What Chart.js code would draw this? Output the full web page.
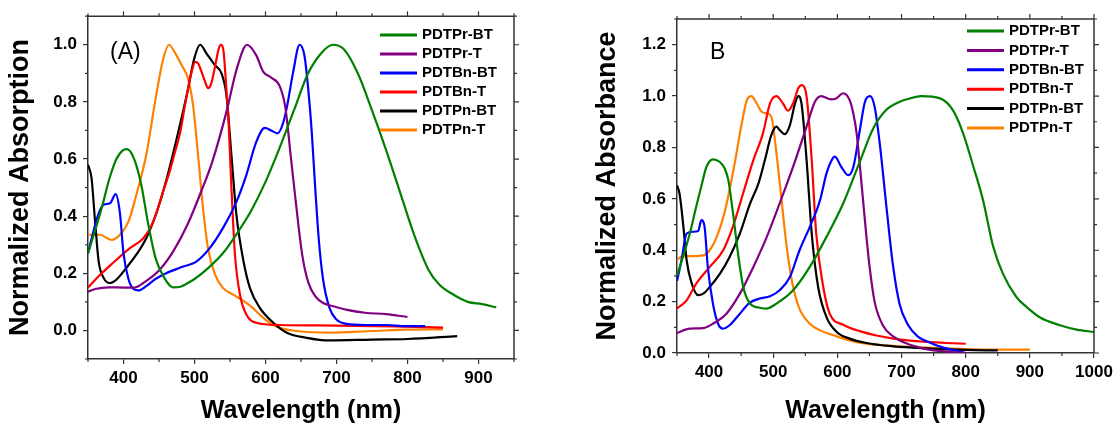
<!DOCTYPE html>
<html>
<head>
<meta charset="utf-8">
<script src="https://cdn.jsdelivr.net/npm/chart.js@4.4.0/dist/chart.umd.min.js"></script>
<style>
  body{margin:0;background:#fff;}
  #wrap{position:relative;width:1117px;height:426px;}
  canvas{position:absolute;top:0;}
  #chartA{left:0;}
  #chartB{left:580px;}
</style>
</head>
<body>
<div id="wrap">
  <canvas id="chartA" width="580" height="426"></canvas>
  <canvas id="chartB" width="537" height="426"></canvas>
</div>
<script>
// series names and colours (same order in both panels)
const names = ['PDTPr-BT','PDTPr-T','PDTBn-BT','PDTBn-T','PDTPn-BT','PDTPn-T'];
const colors = ['#008000','#800080','#0000ff','#ff0000','#000000','#ff8000'];

// tick labels
const xTicksA = [400,500,600,700,800,900];
const yTicksA = [0,0.2,0.4,0.6,0.8,1.0];
const xTicksB = [400,500,600,700,800,900,1000];
const yTicksB = [0,0.2,0.4,0.6,0.8,1.0,1.2];

// ---- panel A: normalized absorption ----
const wlA_PrBT = [350,360,370,380,390,400,405,415,425,435,445,455,470,480,490,500,520,540,560,580,600,620,640,660,680,695,710,730,750,770,790,810,830,845,865,885,905,925];
const abA_PrBT = [0.27,0.35,0.435,0.53,0.60,0.632,0.635,0.60,0.51,0.37,0.255,0.195,0.151,0.153,0.165,0.18,0.22,0.27,0.34,0.42,0.52,0.64,0.77,0.90,0.975,1.0,0.985,0.90,0.77,0.63,0.48,0.33,0.21,0.16,0.125,0.10,0.092,0.081];

const wlA_PrT = [350,360,380,400,415,430,450,470,490,510,525,545,560,574,587,597,608,620,628,636,644,652,660,670,682,695,715,740,770,800];
const abA_PrT = [0.135,0.145,0.151,0.15,0.15,0.17,0.21,0.277,0.37,0.49,0.59,0.765,0.92,1.0,0.963,0.905,0.885,0.855,0.78,0.6,0.42,0.26,0.17,0.12,0.095,0.085,0.072,0.062,0.057,0.047];

const wlA_BnBT = [350,357,365,372,381,389,395,400,407,414,421,432,445,460,480,503,522,540,559,573,587,599,608,617,624,630,639,648,655,660,665,670,675,681,690,700,714,742,770,798,825];
const abA_BnBT = [0.27,0.34,0.41,0.44,0.445,0.477,0.41,0.27,0.18,0.145,0.14,0.155,0.18,0.20,0.22,0.242,0.29,0.358,0.45,0.544,0.66,0.709,0.70,0.69,0.72,0.78,0.905,1.0,0.96,0.85,0.70,0.50,0.32,0.18,0.08,0.038,0.023,0.019,0.019,0.015,0.015];

const wlA_BnT = [350,365,385,409,428,440,447,455,465,472,480,486,491,496,501,505,510,515,519,523,527,531,534,537,541,545,548,552,557,564,573,587,620,700,780,850];
const abA_BnT = [0.15,0.19,0.236,0.288,0.323,0.37,0.416,0.48,0.556,0.62,0.695,0.78,0.847,0.905,0.94,0.935,0.905,0.87,0.848,0.86,0.9,0.95,0.985,1.0,0.975,0.84,0.73,0.50,0.265,0.126,0.056,0.027,0.019,0.017,0.014,0.01];

const wlA_PnBT = [350,355,360,365,372,381,390,404,418,432,447,461,475,489,500,508,517,529,538,545,552,559,569,578,592,611,630,658,690,750,800,870];
const abA_PnBT = [0.58,0.533,0.38,0.242,0.184,0.166,0.178,0.219,0.265,0.323,0.416,0.533,0.672,0.823,0.955,1.0,0.969,0.928,0.9,0.823,0.614,0.405,0.242,0.149,0.079,0.027,-0.008,-0.026,-0.035,-0.032,-0.03,-0.02];

const wlA_PnT = [350,367,383,395,407,418,432,446,456,464,472,482,491,498,505,512,519,529,540,554,568,582,594,606,620,644,690,750,800,850];
const abA_PnT = [0.335,0.335,0.317,0.335,0.381,0.474,0.614,0.823,0.951,1.0,0.974,0.928,0.881,0.788,0.614,0.428,0.288,0.195,0.149,0.126,0.105,0.079,0.05,0.027,0.009,-0.002,-0.008,-0.002,0.003,0.004];

// ---- panel B: normalized absorbance ----
const wlB_PrBT = [350,360,370,380,388,396,406,416,424,430,437,445,453,463,477,489,505,531,557,583,609,635,656,676,697,713,730,760,780,796,812,827,843,858,879,895,916,947,973,1000];
const abB_PrBT = [0.30,0.38,0.465,0.57,0.65,0.725,0.754,0.745,0.72,0.673,0.55,0.39,0.26,0.195,0.177,0.173,0.192,0.244,0.335,0.452,0.582,0.745,0.875,0.946,0.978,0.991,1.0,0.991,0.945,0.855,0.725,0.595,0.413,0.309,0.218,0.179,0.138,0.108,0.091,0.082];

const wlB_PrT = [350,370,391,406,427,448,469,490,510,531,552,565,575,590,598,609,619,625,630,635,640,645,650,658,671,687,708,730,750,780,800];
const abB_PrT = [0.078,0.095,0.097,0.114,0.153,0.231,0.335,0.452,0.582,0.725,0.881,0.978,1.0,0.987,0.991,1.011,0.985,0.93,0.855,0.73,0.595,0.46,0.34,0.2,0.107,0.065,0.037,0.02,0.01,0.004,0.0];

const wlB_BnBT = [350,357,365,375,383,388,393,398,406,414,422,432,448,463,479,495,510,526,541,557,573,583,590,596,606,617,625,635,643,651,658,666,677,687,697,710,725,740,765,791,800];
const abB_BnBT = [0.28,0.361,0.465,0.472,0.475,0.517,0.491,0.335,0.192,0.114,0.095,0.108,0.153,0.195,0.212,0.221,0.244,0.296,0.40,0.491,0.595,0.699,0.745,0.764,0.725,0.692,0.725,0.868,0.978,1.0,0.959,0.816,0.556,0.335,0.19,0.11,0.065,0.045,0.021,0.006,0.0];

const wlB_BnT = [350,365,380,401,422,437,453,469,484,495,505,515,523,531,539,544,552,560,567,578,588,609,635,661,687,713,740,770,800];
const abB_BnT = [0.173,0.205,0.27,0.335,0.40,0.491,0.621,0.751,0.855,0.972,1.0,0.972,0.943,0.972,1.03,1.043,0.998,0.751,0.465,0.257,0.153,0.11,0.085,0.068,0.056,0.048,0.043,0.039,0.036];

const wlB_PnBT = [350,354,360,365,373,383,391,401,417,432,448,464,477,487,497,505,510,518,526,534,539,544,552,560,570,583,599,619,645,687,740,800,850];
const abB_PnBT = [0.653,0.62,0.491,0.361,0.27,0.225,0.231,0.257,0.309,0.374,0.465,0.582,0.66,0.751,0.848,0.881,0.868,0.852,0.887,0.972,1.0,0.972,0.751,0.465,0.257,0.14,0.082,0.056,0.039,0.026,0.018,0.012,0.01];

const wlB_PnT = [350,360,375,391,401,412,425,438,451,459,466,474,482,490,497,505,513,521,531,542,557,573,594,619,645,687,739,791,843,900];
const abB_PnT = [0.364,0.377,0.377,0.38,0.40,0.452,0.556,0.712,0.894,0.985,1.0,0.972,0.939,0.933,0.92,0.777,0.595,0.413,0.257,0.166,0.114,0.088,0.069,0.049,0.036,0.028,0.021,0.016,0.013,0.013];

const FONT = '"Liberation Sans", Arial, Helvetica, sans-serif';
const AXIS = '#333';

// frame on top/right, minor ticks, legend and panel letter
const framePlugin = {
  id: 'frame',
  afterDraw(chart, args, o) {
    const {ctx, chartArea: a} = chart;
    const sx = chart.scales.x, sy = chart.scales.y;
    ctx.save();
    ctx.strokeStyle = AXIS; ctx.lineWidth = 1.5;
    ctx.beginPath();
    ctx.moveTo(a.left, a.top); ctx.lineTo(a.right, a.top); ctx.lineTo(a.right, a.bottom);
    ctx.stroke();
    const split = s => {
      const maj = s.ticks.map(t => t.value);
      const st = maj[1] - maj[0], mn = [];
      for (let v = maj[0] - st/2; v <= s.max + 1e-9; v += st) if (v >= s.min - 1e-9) mn.push(v);
      return {maj, mn};
    };
    const tx = split(sx), ty = split(sy);
    ctx.lineWidth = 1.2;
    ctx.beginPath();
    tx.mn.forEach(v => { const p = sx.getPixelForValue(v); ctx.moveTo(p, a.bottom); ctx.lineTo(p, a.bottom + 3); ctx.moveTo(p, a.top); ctx.lineTo(p, a.top - 3); });
    tx.maj.forEach(v => { const p = sx.getPixelForValue(v); ctx.moveTo(p, a.top); ctx.lineTo(p, a.top - 5); });
    ty.mn.forEach(v => { const p = sy.getPixelForValue(v); ctx.moveTo(a.left, p); ctx.lineTo(a.left - 3, p); ctx.moveTo(a.right, p); ctx.lineTo(a.right + 3, p); });
    ty.maj.forEach(v => { const p = sy.getPixelForValue(v); ctx.moveTo(a.right, p); ctx.lineTo(a.right + 5, p); });
    ctx.stroke();

    // legend
    ctx.font = 'bold 15px ' + FONT;
    ctx.textBaseline = 'middle'; ctx.textAlign = 'left';
    chart.data.datasets.forEach((d, i) => {
      const y = o.ly + i * o.gap;
      ctx.strokeStyle = d.borderColor; ctx.lineWidth = 3;
      ctx.beginPath(); ctx.moveTo(o.lx, y); ctx.lineTo(o.lx + 37, y); ctx.stroke();
      ctx.fillStyle = '#000';
      ctx.fillText(d.label, o.lx + 42, y);
    });

    ctx.font = '23px ' + FONT;
    ctx.fillText(o.tag, o.tx, o.ty);
    ctx.restore();
  }
};

function makeChart(id, p) {
  const datasets = p.series.map((s, i) => ({
    label: names[i],
    data: s[0].map((w, j) => ({x: w, y: s[1][j]})),
    borderColor: colors[i],
    borderWidth: 2.2,
    pointRadius: 0,
    cubicInterpolationMode: 'monotone',
    fill: false
  }));
  const tickFont = {family: FONT, size: 17, weight: 'bold'};
  const xTitleFont = {family: FONT, size: 25, weight: 'bold'};
  const yTitleFont = {family: FONT, size: 27, weight: 'bold'};
  return new Chart(document.getElementById(id), {
    type: 'line',
    data: {datasets},
    options: {
      responsive: false,
      animation: false,
      layout: {padding: {top: p.top, right: p.right, left: 0, bottom: 0}},
      plugins: {
        legend: {display: false},
        tooltip: {enabled: false},
        frame: {lx: p.lx, ly: p.ly, gap: p.gap, tag: p.tag, tx: p.tx, ty: p.ty}
      },
      scales: {
        x: {
          type: 'linear', min: p.xmin, max: p.xmax,
          afterBuildTicks: s => { s.ticks = p.xt.map(v => ({value: v})); },
          afterFit: s => { s.height = p.xh; },
          ticks: {font: tickFont, color: '#000', padding: 4, maxRotation: 0, autoSkip: false, callback: v => String(v)},
          grid: {drawOnChartArea: false, tickLength: 5, color: AXIS, lineWidth: 1.2},
          border: {color: AXIS, width: 1.5},
          title: {display: true, text: 'Wavelength (nm)', font: xTitleFont, color: '#000', padding: {top: 0, bottom: 0}}
        },
        y: {
          min: p.ymin, max: p.ymax,
          afterBuildTicks: s => { s.ticks = p.yt.map(v => ({value: v})); },
          afterFit: s => { s.width = p.yw; },
          ticks: {font: tickFont, color: '#000', padding: 6, callback: v => Number(v).toFixed(1)},
          grid: {drawOnChartArea: false, tickLength: 5, color: AXIS, lineWidth: 1.2},
          border: {color: AXIS, width: 1.5},
          title: {display: true, text: p.ytitle, font: yTitleFont, color: '#000', padding: {top: p.ytp, bottom: 0}}
        }
      }
    },
    plugins: [framePlugin]
  });
}

makeChart('chartA', {
  series: [[wlA_PrBT, abA_PrBT], [wlA_PrT, abA_PrT], [wlA_BnBT, abA_BnBT], [wlA_BnT, abA_BnT], [wlA_PnBT, abA_PnBT], [wlA_PnT, abA_PnT]],
  xmin: 350, xmax: 950, ymin: -0.1, ymax: 1.1, xt: xTicksA, yt: yTicksA,
  top: 14, right: 66, xh: 67, yw: 88, ytp: 4,
  ytitle: 'Normalized Absorption',
  lx: 380, ly: 35, gap: 19, tag: '(A)', tx: 110, ty: 53
});

makeChart('chartB', {
  series: [[wlB_PrBT, abB_PrBT], [wlB_PrT, abB_PrT], [wlB_BnBT, abB_BnBT], [wlB_BnT, abB_BnT], [wlB_PnBT, abB_PnBT], [wlB_PnT, abB_PnT]],
  xmin: 350, xmax: 1000, ymin: 0, ymax: 1.3, xt: xTicksB, yt: yTicksB,
  top: 19, right: 23, xh: 73, yw: 97, ytp: 11,
  ytitle: 'Normalized Absorbance',
  lx: 387, ly: 31, gap: 19.4, tag: 'B', tx: 130, ty: 53
});
</script>
</body>
</html>
